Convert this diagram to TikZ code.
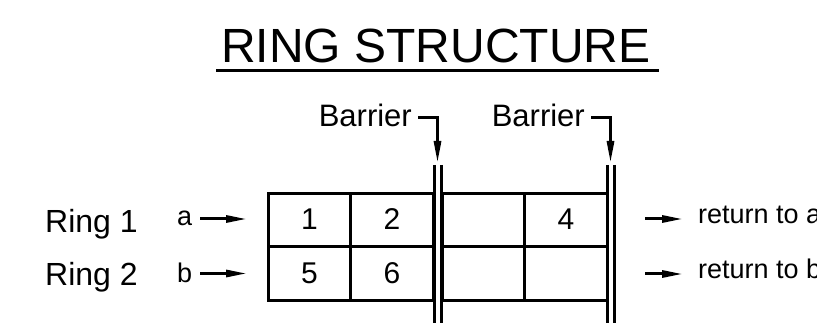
\documentclass[tikz,border=0pt]{standalone}
\usepackage{fontspec}
\setmainfont{Liberation Sans}
\usetikzlibrary{arrows.meta,calc}
\begin{document}
\begin{tikzpicture}[x=1pt,y=-1pt,
  txt/.style={inner sep=0pt,anchor=base},
  cell/.style={draw,line width=3pt,minimum width=82.5pt,minimum height=53.5pt,inner sep=0pt,font=\fontsize{30}{30}\selectfont},
  arr/.style={line width=3pt,-{Triangle[length=21pt,width=7pt]}},
  barline/.style={line width=3pt}]
\useasboundingbox (0,0) rectangle (817,323);
% title
\node[txt,font=\fontsize{48}{48}\selectfont] (title) at (436,63) {RING STRUCTURE};
\draw[line width=3pt] ($(title.base west)+(-5,8)$) coordinate (ul1) -- ($(title.base east)+(8,8)$) coordinate (ul2);
% grid cells
\node[cell] (c11) at (309.5,220) {\raisebox{1.5pt}{1}};
\node[cell] (c12) at (392,220) {\raisebox{1.5pt}{2}};
\node[cell] (c13) at (483.5,220) {};
\node[cell] (c14) at (566,220) {\raisebox{1.5pt}{4}};
\node[cell] (c21) at (309.5,273.5) {\raisebox{0.5pt}{5}};
\node[cell] (c22) at (392,273.5) {\raisebox{0.5pt}{6}};
\node[cell] (c23) at (483.5,273.5) {};
\node[cell] (c24) at (566,273.5) {};
% barrier lines
\coordinate (b1a) at (434,165); \coordinate (b1b) at (434,330);
\coordinate (b2a) at (441,165); \coordinate (b2b) at (441,330);
\coordinate (b3a) at (607,165); \coordinate (b3b) at (607,330);
\coordinate (b4a) at (614,165); \coordinate (b4b) at (614,330);
\draw[barline] (b1a) -- (b1b);
\draw[barline] (b2a) -- (b2b);
\draw[barline] (b3a) -- (b3b);
\draw[barline] (b4a) -- (b4b);
% barrier labels
\node[txt,font=\fontsize{31}{31}\selectfont,anchor=base east] (bar1) at (412,127) {Barrier};
\node[txt,font=\fontsize{31}{31}\selectfont,anchor=base east] (bar2) at (585,127) {Barrier};
\coordinate (t1) at (437.5,163);
\coordinate (t2) at (610.5,163);
\draw[line width=3pt,-{Triangle[length=22pt,width=7pt]}] (418,118) coordinate (s1) -| (t1);
\draw[line width=3pt,-{Triangle[length=22pt,width=7pt]}] (591,118) coordinate (s2) -| (t2);
% ring labels
\node[txt,font=\fontsize{32}{32}\selectfont,anchor=base west] (ring1) at (45,233) {Ring 1};
\node[txt,font=\fontsize{32}{32}\selectfont,anchor=base west] (ring2) at (45,286) {Ring 2};
% inputs
\node[txt,font=\fontsize{27}{27}\selectfont,anchor=base west] (ina) at (177,226) {a};
\node[txt,font=\fontsize{27}{27}\selectfont,anchor=base west] (inb) at (177,283) {b};
\coordinate (ta) at (247,219);
\coordinate (tb) at (247,273.5);
\draw[arr] (200,219) coordinate (sa) -- (ta);
\draw[arr] (200,273.5) coordinate (sb) -- (tb);
% returns
\node[txt,font=\fontsize{27}{27}\selectfont,anchor=base west] (reta) at (698,224) {return to a};
\node[txt,font=\fontsize{27}{27}\selectfont,anchor=base west] (retb) at (698,279) {return to b};
\coordinate (ra) at (645,219); \coordinate (rae) at (683,219);
\coordinate (rb) at (645,274); \coordinate (rbe) at (683,274);
\draw[arr] (ra) -- (rae);
\draw[arr] (rb) -- (rbe);
\end{tikzpicture}
\end{document}
